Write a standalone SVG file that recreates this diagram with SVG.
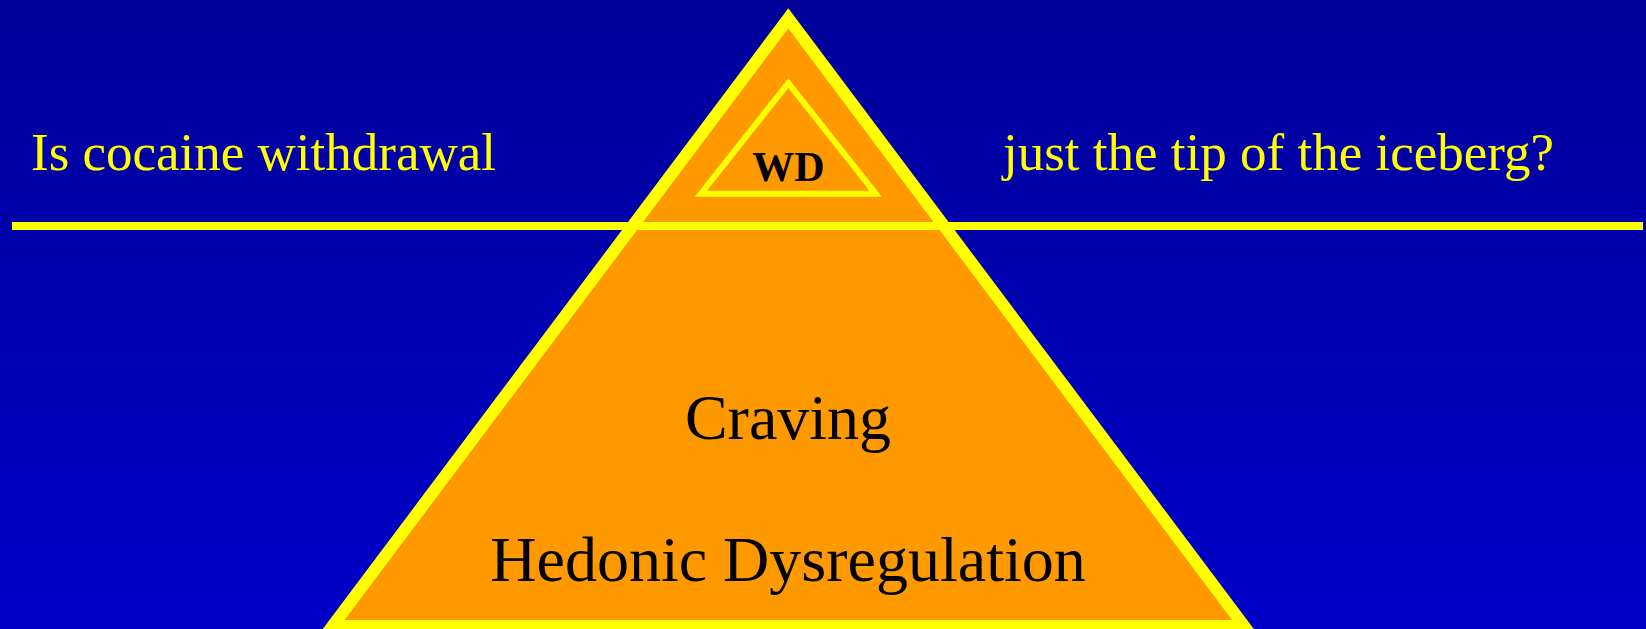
<svg xmlns="http://www.w3.org/2000/svg" width="1646" height="629" viewBox="0 0 1646 629">
<defs>
<linearGradient id="bg" x1="0" y1="0" x2="0" y2="1">
<stop offset="0" stop-color="#000099"/>
<stop offset="1" stop-color="#0000C8"/>
</linearGradient>
<style>
.tri{fill:#FF9900;stroke:#FFFF00;stroke-linejoin:miter;stroke-miterlimit:10}
.q{font-family:"Liberation Serif","Times New Roman",serif;fill:#FFFF00;font-size:53px}
.lbl{font-family:"Liberation Serif","Times New Roman",serif;fill:#000000;text-anchor:middle}
</style>
</defs>
<rect x="0" y="0" width="1646" height="629" fill="url(#bg)"/>
<g id="iceberg">
<polygon class="tri" stroke-width="12" points="788.3,18.3 332.5,626 1244.1,626"/>
<text class="lbl" x="788" y="439" font-size="64">Craving</text>
<text class="lbl" x="788" y="581" font-size="64">Hedonic Dysregulation</text>
</g>
<g id="tip">
<polygon class="tri" stroke-width="6" points="788.3,83.1 700.9,193.7 875.7,193.7"/>
<text class="lbl" x="788.3" y="181" font-size="42" font-weight="bold">WD</text>
</g>
<g id="connectors">
<line x1="12" y1="226" x2="1643" y2="226" stroke="#FFFF00" stroke-width="8"/>
</g>
<g id="question">
<text class="q" x="31" y="170">Is cocaine withdrawal</text>
<text class="q" x="1003" y="170">just the tip of the iceberg?</text>
</g>
</svg>
